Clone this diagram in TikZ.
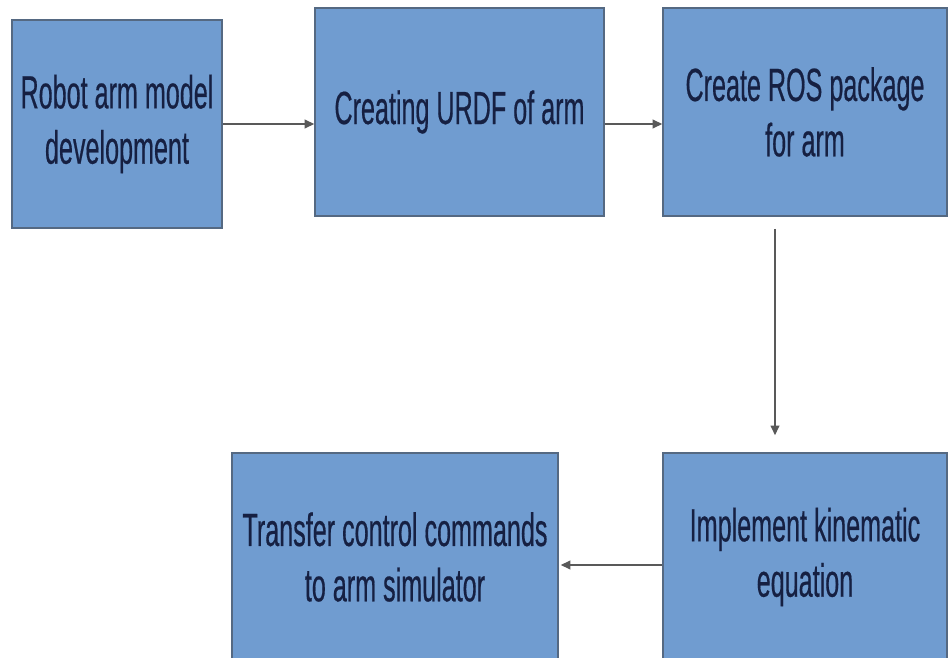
\documentclass[tikz,border=0pt]{standalone}
\usepackage{fontspec}
\setmainfont[FakeStretch=0.54,FakeBold=0.4]{Liberation Sans}
\usetikzlibrary{arrows.meta}
\definecolor{boxfill}{RGB}{112,156,208}
\definecolor{boxline}{RGB}{85,105,130}
\definecolor{boxtext}{RGB}{22,32,66}
\tikzset{
  stepbox/.style={draw=boxline, line width=0.9pt, fill=boxfill, text=boxtext,
    align=center, inner sep=0pt, minimum height=4.16cm,
    font=\fontsize{26.5}{31.5}\selectfont},
  flow/.style={draw=black!65, line width=0.8pt, -{Triangle[length=5.5pt,width=5pt]}}
}
\begin{document}
\begin{tikzpicture}[x=0.02cm, y=-0.02cm]
      \clip (0,0) rectangle (948,658);
      \fill[white] (0,0) rectangle (948,658);
      \node[stepbox, minimum width=4.2cm] (robot) at (117,124) {Robot arm model\\development};
      \node[stepbox, minimum width=5.78cm] (urdf) at (459.5,112) {Creating URDF of arm};
      \node[stepbox, minimum width=5.68cm] (ros) at (805,112) {Create ROS package\\for arm};
      \node[stepbox, minimum width=5.68cm] (kin) at (805,557) {Implement kinematic\\equation};
      \node[stepbox, minimum width=6.52cm] (transfer) at (395,557) {Transfer control commands\\to arm simulator};
      \begin{scope}[flow]
        \draw (robot.east) -- (robot.east -| urdf.west);
        \draw (urdf.east |- robot) -- (ros.west |- robot);
        \draw ([xshift=-0.6cm,yshift=-0.24cm]ros.south) -- ([xshift=-0.6cm,yshift=0.34cm]kin.north);
        \draw ([yshift=-0.16cm]kin.west) -- ([yshift=-0.16cm,xshift=0.04cm]transfer.east);
      \end{scope}
    \end{tikzpicture}
\end{document}
